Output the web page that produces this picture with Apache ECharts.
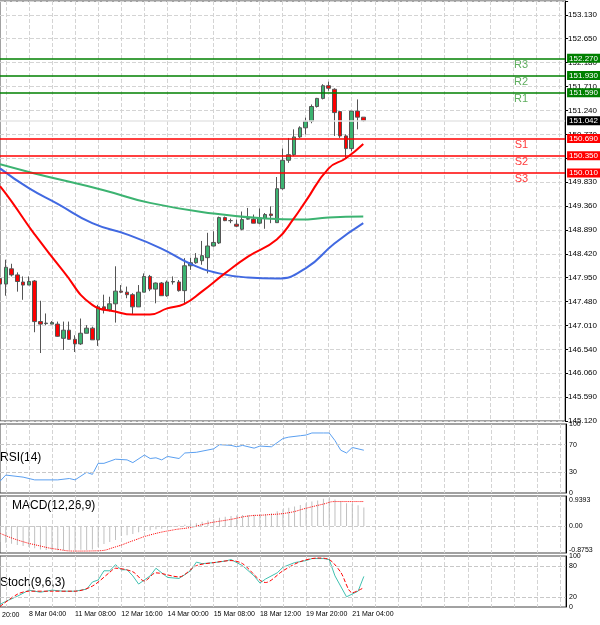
<!DOCTYPE html>
<html><head><meta charset="utf-8">
<script src="https://cdn.jsdelivr.net/npm/echarts@6/dist/echarts.min.js"></script>
<style>html,body{margin:0;padding:0;background:#fff}#c{width:600px;height:625px}</style>
</head><body><div id="c"></div>
<script>
// OHLC per 4h bar: [open, close, low, high]
const candles = [
[147.93,147.82,147.80,147.97],[147.82,148.15,147.59,148.30],[148.12,148.00,147.97,148.22],[148.00,147.87,147.67,148.05],
[147.86,147.80,147.51,147.97],[147.80,147.87,147.80,147.97],[147.88,147.08,146.87,147.90],[147.08,147.03,146.46,147.49],
[147.04,147.05,147.01,147.24],[147.03,147.06,147.03,147.09],[147.03,146.79,146.78,147.08],[146.75,146.91,146.52,147.08],
[146.91,146.73,146.72,147.08],[146.73,146.64,146.48,146.81],[146.64,146.85,146.62,147.14],[146.85,146.95,146.85,147.01],
[146.95,146.72,146.72,146.98],[146.72,147.37,146.60,147.41],[147.37,147.31,147.24,147.61],[147.31,147.43,147.28,147.57],
[147.43,147.68,147.06,148.17],[147.68,147.66,147.64,147.80],[147.66,147.61,147.54,147.77],[147.61,147.37,147.21,147.64],
[147.37,147.66,147.37,147.80],[147.66,147.97,147.66,148.03],[147.97,147.72,147.68,148.00],[147.72,147.84,147.44,147.85],
[147.84,147.59,147.59,147.86],[147.59,147.86,147.57,147.89],[147.86,147.87,147.81,147.97],[147.86,147.69,147.67,147.90],
[147.69,148.18,147.44,148.33],[148.18,148.24,148.10,148.34],[148.24,148.33,148.22,148.43],[148.28,148.38,148.20,148.67],
[148.34,148.57,148.03,148.83],[148.57,148.64,148.56,148.86],[148.63,149.13,148.61,149.15],[149.13,149.07,149.06,149.15],
[149.07,149.07,149.02,149.11],[149.00,148.96,148.94,149.09],[148.90,149.09,148.88,149.25],[149.10,149.11,149.09,149.32],
[149.10,149.02,149.02,149.19],[149.02,149.12,149.00,149.31],[149.12,149.19,148.91,149.22],[149.20,149.17,149.02,149.35],
[149.03,149.70,149.03,149.93],[149.70,150.26,149.68,150.49],[150.26,150.37,150.21,150.70],[150.37,150.72,150.34,150.87],
[150.72,150.90,150.70,150.93],[150.90,151.03,150.77,151.10],[151.03,151.32,150.99,151.36],[151.32,151.48,151.30,151.49],
[151.48,151.73,151.46,151.76],[151.73,151.68,151.63,151.81],[151.66,151.20,150.74,151.68],[151.22,150.74,150.70,151.23],
[150.74,150.49,150.29,150.77],[150.49,151.23,150.44,151.23],[151.23,151.11,150.87,151.46],[151.11,151.04,151.02,151.11]
];
const maRed = [[0,149.75],[2,149.45],[6,148.80],[11,148.07],[16,147.41],[20,147.28],[23,147.22],[26,147.22],[29,147.34],[32,147.43],[35,147.67],[39,148.03],[43,148.36],[48,148.70],[51,149.12],[53,149.45],[57,150.10],[60,150.30],[63,150.58]];
const maBlue = [[0,150.10],[5,149.71],[10,149.40],[16,149.02],[22,148.80],[28,148.52],[33,148.22],[38,148.03],[43,147.95],[48,147.93],[53,148.13],[58,148.62],[63,149.02]];
const maGreen = [[0,150.18],[6,150.00],[18,149.67],[26,149.42],[37,149.21],[46,149.11],[52,149.09],[57,149.13],[63,149.15]];
const resist = [152.27,151.93,151.59];
const support = [150.69,150.35,150.01];
const resistNames = ['R3','R2','R1'];
const supportNames = ['S1','S2','S3'];
const lastPrice = 151.042;
const yLabels = ['145.120','145.590','146.060','146.540','147.010','147.480','147.950','148.420','148.890','149.360','149.830','150.300','150.770','151.240','151.710','152.180','152.650','153.130'];
const rsi = [[0,17],[1,26],[4,23],[6,19],[10,19],[12,21],[13,19],[15,30],[16,27],[17,43],[18,43],[20,49],[22,48],[23,44],[25,55],[26,50],[27,51],[28,48],[29,53],[31,50],[32,58],[34,59],[37,64],[38,70],[40,69],[41,67],[42,69],[44,65],[45,68],[47,67],[49,79],[50,81],[52,83],[53,84],[54,87],[56,87],[57,87],[58,76],[59,62],[60,58],[61,66],[63,62]];
const macdHist = [-0.57,-0.6,-0.64,-0.68,-0.72,-0.75,-0.8,-0.84,-0.86,-0.87,-0.87,-0.87,-0.87,-0.86,-0.85,-0.86,-0.84,-0.75,-0.65,-0.57,-0.5,-0.36,-0.33,-0.29,-0.22,-0.18,-0.15,-0.12,-0.1,-0.06,-0.02,0.02,0.05,0.08,0.1,0.15,0.2,0.24,0.3,0.33,0.36,0.38,0.4,0.4,0.41,0.42,0.43,0.46,0.53,0.6,0.66,0.7,0.76,0.82,0.88,0.92,0.98,1.0,0.95,0.88,0.82,0.8,0.75,0.67];
const macdSignal = [[0,-0.26],[3,-0.5],[7,-0.72],[10,-0.84],[13,-0.9],[17,-0.89],[20,-0.75],[23,-0.53],[26,-0.32],[30,-0.14],[33,-0.05],[36,0.1],[40,0.24],[43,0.36],[46,0.4],[50,0.48],[53,0.64],[56,0.79],[58,0.88],[63,0.88]];
const macdLabels = [0.9393,0,-0.8753];
const stochMain = [[0,5],[1,11],[3,21],[5,33],[7,29],[9,33],[11,31],[13,31],[15,35],[16,49],[17,53],[18,71],[19,71],[20,83],[21,73],[22,73],[23,61],[24,45],[26,61],[27,76],[29,58],[31,56],[33,71],[34,88],[35,85],[37,87],[39,90],[40,93],[42,81],[44,61],[45,47],[46,55],[48,67],[49,78],[51,87],[53,91],[54,95],[56,95],[57,93],[58,61],[60,20],[62,31],[63,60]];
const stochSignal = [[0,1],[3,25],[5,31],[9,31],[13,31],[16,41],[19,68],[20,76],[23,69],[25,51],[27,67],[31,59],[34,81],[37,87],[40,91],[42,85],[46,48],[49,71],[52,89],[55,96],[57,93],[59,68],[61,28],[63,38]];
const timeLabels = {5:'8 Mar 04:00',13:'11 Mar 08:00',21:'12 Mar 16:00',29:'14 Mar 00:00',37:'15 Mar 08:00',45:'18 Mar 12:00',53:'19 Mar 20:00',61:'21 Mar 04:00'};
const N = 99;
const cats = Array.from({length:N},(_,i)=>String(i));

const F = 'Liberation Sans, Arial, sans-serif';
const gridLine = {show:true, lineStyle:{color:'#d4d4d4', type:'dashed', width:1}};
const grids = [
  {left:0,right:34,top:1,height:420},
  {left:0,right:34,top:424,height:69},
  {left:0,right:34,top:496,height:57},
  {left:0,right:34,top:556,height:51}
].map(g=>Object.assign(g,{show:true,borderColor:'#444',borderWidth:1}));
const xAxes = grids.map((g,k)=>({
  type:'category', gridIndex:k, data:cats, boundaryGap:false,
  axisLine:{show:false}, axisTick:{show:false},
  splitLine:{show:true, interval:(i)=>i%4===1, lineStyle:{color:'#d4d4d4',type:'dashed'}},
  axisLabel: k===3 ? {show:true, hideOverlap:false, interval:(i)=>timeLabels[i]!==undefined, formatter:(v,i)=>timeLabels[i]||'', align:'left', fontSize:7, color:'#000', fontFamily:F, margin:4} : {show:false}
}));
const axisBase = {position:'right', axisLine:{show:true,lineStyle:{color:'#000'}}, axisTick:{show:true,length:3,lineStyle:{color:'#000'}}};
const yAxes = [
  Object.assign({type:'value', gridIndex:0, min:145.12, max:153.40, interval:0.471, splitLine:gridLine,
    axisLabel:{fontSize:8, color:'#000', fontFamily:F, margin:3, formatter:(v,i)=>yLabels[i]||''}}, axisBase),
  Object.assign({type:'value', gridIndex:1, min:0, max:100, interval:10, splitLine:{show:false},
    axisLabel:{fontSize:7, color:'#000', fontFamily:F, margin:3, formatter:(v)=>[0,30,70,100].includes(v)?String(v):''}}, axisBase, {axisTick:{show:false}}),
  Object.assign({type:'value', gridIndex:2, min:-0.97, max:1.08, splitLine:{show:false}, axisLabel:{show:false}}, axisBase, {axisTick:{show:false}}),
  Object.assign({type:'value', gridIndex:3, min:0, max:100, interval:10, splitLine:{show:false},
    axisLabel:{fontSize:7, color:'#000', fontFamily:F, margin:3, formatter:(v)=>[0,20,80,100].includes(v)?String(v):''}}, axisBase, {axisTick:{show:false}})
];
function boxLine(v, col, txt){
  return {yAxis:v, lineStyle:{color:col,width:1.5,type:'solid'},
    label:{show:true, position:'end', distance:2, formatter:txt, color:'#fff', backgroundColor:col, padding:[1,2,0,2], fontSize:8, fontFamily:F}};
}
const levelBoxes = [];
resist.forEach(v=>levelBoxes.push(boxLine(v,'#008000',v.toFixed(3))));
support.forEach(v=>levelBoxes.push(boxLine(v,'#ff0000',v.toFixed(3))));
levelBoxes.push({yAxis:lastPrice, lineStyle:{color:'#e6e6e6',width:1.5,type:'solid'},
  label:{show:true, position:'end', distance:2, formatter:lastPrice.toFixed(3), color:'#fff', backgroundColor:'#000', padding:[1,2,0,2], fontSize:8, fontFamily:F}});
const levelNames = [];
resist.forEach((v,i)=>levelNames.push({yAxis:v, label:{show:true, position:'insideEndBottom', formatter:resistNames[i], color:'#5fae5f', fontSize:11, fontFamily:F, offset:[-32,-4]}}));
support.forEach((v,i)=>levelNames.push({yAxis:v, label:{show:true, position:'insideEndBottom', formatter:supportNames[i], color:'#ff3b3b', fontSize:11, fontFamily:F, offset:[-32,-4]}}));

const dashRef = (vals)=>({silent:true, symbol:'none', lineStyle:{color:'#c8c8c8',type:'dashed',width:1}, label:{show:false}, data:vals.map(v=>({yAxis:v}))});
const option = {
  animation:false, backgroundColor:'#fff',
  grid:grids, xAxis:xAxes, yAxis:yAxes,
  graphic:[
    {type:'text', left:0, top:452, style:{text:'RSI(14)', fontSize:12, fontFamily:F, fill:'#000'}},
    {type:'text', left:12, top:500, style:{text:'MACD(12,26,9)', fontSize:12, fontFamily:F, fill:'#000'}},
    {type:'text', left:0, top:577, style:{text:'Stoch(9,6,3)', fontSize:12, fontFamily:F, fill:'#000'}},
    {type:'text', left:2, top:612, style:{text:'20:00', fontSize:7, fontFamily:F, fill:'#000'}}
  ],
  series:[
    {type:'line', xAxisIndex:0, yAxisIndex:0, data:maGreen, smooth:true, showSymbol:false, lineStyle:{color:'#3cb371',width:2},
      markLine:{silent:true, symbol:'none', lineStyle:{color:'transparent'}, data:levelNames}},
    {type:'line', xAxisIndex:0, yAxisIndex:0, data:maBlue, smooth:true, showSymbol:false, lineStyle:{color:'#4169e1',width:2}},
    {type:'line', xAxisIndex:0, yAxisIndex:0, data:maRed, smooth:true, showSymbol:false, lineStyle:{color:'#ff0000',width:2}},
    {type:'candlestick', xAxisIndex:0, yAxisIndex:0, data:candles, barWidth:4,
      itemStyle:{color:'#3cb371', color0:'#ff0000', borderColor:'#555', borderColor0:'#555', borderWidth:1},
      markLine:{silent:true, symbol:'none', data:levelBoxes}},
    {type:'line', xAxisIndex:1, yAxisIndex:1, data:rsi, showSymbol:false, lineStyle:{color:'#5a9ff0',width:1}, markLine:dashRef([30,70])},
    {type:'bar', xAxisIndex:2, yAxisIndex:2, data:macdHist, barWidth:1, itemStyle:{color:'#c0c0c0'},
      markLine:{silent:true, symbol:'none', lineStyle:{color:'#c8c8c8',type:'dashed',width:1},
        data:macdLabels.map(v=>({yAxis:v, lineStyle:{color: v===0?'#c8c8c8':'transparent'}, label:{show:true, position:'end', distance:3, formatter:(v===0?'0.00':String(v)), fontSize:7, fontFamily:F, color:'#000'}}))}},
    {type:'line', xAxisIndex:2, yAxisIndex:2, data:macdSignal, smooth:true, showSymbol:false, lineStyle:{color:'#ff0000',width:1,type:'dotted'}},
    {type:'line', xAxisIndex:3, yAxisIndex:3, data:stochMain, showSymbol:false, lineStyle:{color:'#40c0b0',width:1}, markLine:dashRef([20,80])},
    {type:'line', xAxisIndex:3, yAxisIndex:3, data:stochSignal, smooth:0.3, showSymbol:false, lineStyle:{color:'#ff0000',width:1,type:'dashed'}}
  ]
};
echarts.init(document.getElementById('c')).setOption(option);
</script></body></html>
